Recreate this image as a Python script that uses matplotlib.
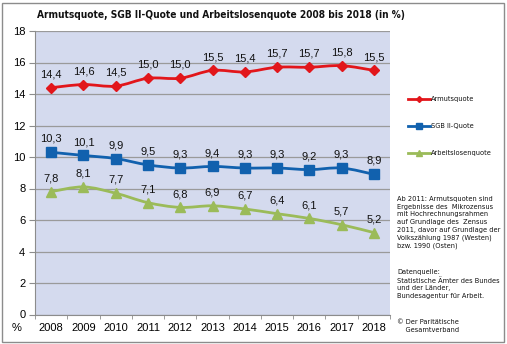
import matplotlib
matplotlib.use("Agg")
import matplotlib.pyplot as plt
import numpy as np
from matplotlib.path import Path
from matplotlib.patches import PathPatch, Rectangle

years = ["2008", "2009", "2010", "2011", "2012", "2013", "2014", "2015", "2016", "2017", "2018"]
armut = [14.4, 14.6, 14.5, 15.0, 15.0, 15.5, 15.4, 15.7, 15.7, 15.8, 15.5]
sgb = [10.3, 10.1, 9.9, 9.5, 9.3, 9.4, 9.3, 9.3, 9.2, 9.3, 8.9]
alq = [7.8, 8.1, 7.7, 7.1, 6.8, 6.9, 6.7, 6.4, 6.1, 5.7, 5.2]
series_names = ["Armutsquote", "SGB II-Quote", "Arbeitslosenquote"]
colors = ["#E2161B", "#1161AE", "#9BBB59"]

NARROW = dict(family="DejaVu Sans", fontstretch="condensed")

W, H = 507, 344
fig = plt.figure(figsize=(W / 100, H / 100), dpi=100)
fig.patch.set_facecolor("white")
fig.add_artist(Rectangle((2 / W, 2 / H), 502 / W, 339 / H, transform=fig.transFigure,
                         fill=False, edgecolor="#8C8C8C", linewidth=1.0))

ax = fig.add_axes([35 / W, 1 - 314.5 / H, 355 / W, 283.5 / H])
ax.set_facecolor("#D4DAEE")
ax.set_xlim(-0.5, len(years) - 0.5)
ax.set_ylim(0, 18)
ax.set_yticks(range(0, 19, 2))
ax.set_xticks(range(len(years)))
ax.set_xticklabels(years)
ax.set_xticks(np.arange(-0.5, len(years), 1), minor=True)
ax.tick_params(axis="x", which="major", length=0, labelsize=8, pad=6)
ax.tick_params(axis="x", which="minor", length=3, color="#8C8C8C")
ax.tick_params(axis="y", length=4, color="#8C8C8C", labelsize=8, pad=3)
ax.grid(axis="y", color="#9A9A9A", linewidth=0.9)
ax.set_axisbelow(True)
for s in ["top", "right"]:
    ax.spines[s].set_visible(False)
ax.spines["left"].set_color("#8C8C8C")
ax.spines["bottom"].set_color("#8C8C8C")
for lab in ax.get_xticklabels() + ax.get_yticklabels():
    lab.set_family("Liberation Sans")

def smooth_path(xs, ys, t=1 / 6):
    pts = np.column_stack([xs, ys]).astype(float)
    verts = [pts[0]]
    codes = [Path.MOVETO]
    n = len(pts)
    for i in range(n - 1):
        p0 = pts[i - 1] if i > 0 else pts[i]
        p1 = pts[i]
        p2 = pts[i + 1]
        p3 = pts[i + 2] if i + 2 < n else pts[i + 1]
        c1 = p1 + (p2 - p0) * t
        c2 = p2 - (p3 - p1) * t
        verts += [c1, c2, p2]
        codes += [Path.CURVE4] * 3
    return Path(verts, codes)

markers = ["D", "s", "^"]
msizes = [5, 7, 7]
xs = np.arange(len(years))
for vals, c, m, ms, name in zip([armut, sgb, alq], colors, markers, msizes, series_names):
    ax.add_patch(PathPatch(smooth_path(xs, vals), fill=False, edgecolor=c, linewidth=2.0, zorder=3))
    ax.plot(xs, vals, linestyle="none", marker=m, markersize=ms, color=c, zorder=4)
    for x, v in zip(xs, vals):
        ax.annotate(f"{v:.1f}".replace(".", ","), (x, v), xytext=(0, 6), textcoords="offset points",
                    ha="center", va="bottom", fontsize=8, family="Liberation Sans", color="#111111")

# legend
leg_y = [99, 126, 153]
for y, c, m, ms, name in zip(leg_y, colors, markers, msizes, series_names):
    fig.add_artist(plt.Line2D([408 / W, 419 / W, 430 / W], [1 - y / H] * 3, transform=fig.transFigure,
                              color=c, linewidth=2.0, marker=m, markersize=ms - 2, markevery=[1]))
    fig.text(431 / W, 1 - y / H, name, fontsize=5.3, va="center", ha="left", color="#111111", **NARROW)

fig.text(37 / W, 1 - 15 / H, "Armutsquote, SGB II-Quote und Arbeitslosenquote 2008 bis 2018 (in %)",
         fontsize=7.3, fontweight="bold", va="center", ha="left", color="#111111", **NARROW)

TXT = dict(fontsize=5.35, va="top", ha="left", linespacing=1.33, color="#111111", **NARROW)
note = ("Ab 2011: Armutsquoten sind\nErgebnisse des  Mikrozensus\nmit Hochrechnungsrahmen\n"
        "auf Grundlage des  Zensus\n2011, davor auf Grundlage der\nVolkszählung 1987 (Westen)\n"
        "bzw. 1990 (Osten)")
fig.text(397 / W, 1 - 196 / H, note, **TXT)
src = "Datenquelle:\nStatistische Ämter des Bundes\nund der Länder,\nBundesagentur für Arbeit."
fig.text(397 / W, 1 - 269 / H, src, **TXT)
fig.text(397 / W, 1 - 319 / H, "© Der Paritätische\n    Gesamtverband", **TXT)

fig.text(12 / W, 1 - 328 / H, "%", fontsize=8, va="center", ha="left", family="Liberation Sans")

fig.savefig("out.png", dpi=100)
